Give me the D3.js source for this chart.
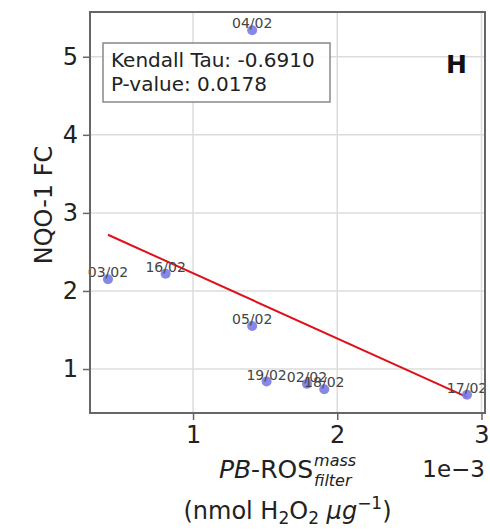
<!DOCTYPE html>
<html><head><meta charset="utf-8">
<script src="https://cdn.jsdelivr.net/npm/d3@7"></script>
<style>
body{margin:0;background:#fff}
text{font-family:"DejaVu Sans",sans-serif}
</style>
</head><body>
<svg id="chart" width="490" height="530"></svg>
<script>
// Sampling dates and their measurements
const dates = ["03/02","16/02","05/02","19/02","02/02","18/02","17/02","04/02"];
const rosValues = [0.00041,0.00081,0.00141,0.00151,0.00179,0.00191,0.00290,0.00141];
const nqoValues = [2.15,2.22,1.55,0.84,0.81,0.74,0.67,5.34];
// Trend line end points
const fitX = [0.00041, 0.00290];
const fitY = [2.72, 0.64];
const xTicks = [0.001, 0.002, 0.003];
const yTicks = [1, 2, 3, 4, 5];
const statLines = ["Kendall Tau: -0.6910", "P-value: 0.0178"];
const panelTag = "H";

const svg = d3.select("#chart");
const L = 90, R = 485, T = 12, B = 413;

function padded(vals){
  const [a,b] = d3.extent(vals); const p = (b-a)*0.05; return [a-p, b+p];
}
const x = d3.scaleLinear().domain(padded(rosValues)).range([L, R]);
const y = d3.scaleLinear().domain(padded(nqoValues)).range([B, T]);

// grid
const g = svg.append("g");
g.selectAll(".gx").data(xTicks).join("line")
  .attr("x1", d=>x(d)).attr("x2", d=>x(d)).attr("y1", T).attr("y2", B)
  .attr("stroke", "#dcdcdc").attr("stroke-width", 1.5);
g.selectAll(".gy").data(yTicks).join("line")
  .attr("y1", d=>y(d)).attr("y2", d=>y(d)).attr("x1", L).attr("x2", R)
  .attr("stroke", "#dcdcdc").attr("stroke-width", 1.5);

// axes
const xAxis = d3.axisBottom(x).tickValues(xTicks).tickFormat(d=>d3.format("d")(d*1000)).tickSizeOuter(0).tickSize(7).tickPadding(6);
const yAxis = d3.axisLeft(y).tickValues(yTicks).tickFormat(d3.format("d")).tickSizeOuter(0).tickSize(7).tickPadding(5);
const gx = svg.append("g").attr("transform", `translate(0,${B})`).call(xAxis);
const gy = svg.append("g").attr("transform", `translate(${L},0)`).call(yAxis);
[gx, gy].forEach(a => {
  a.select(".domain").remove();
  a.selectAll(".tick line").attr("stroke", "#666").attr("stroke-width", 1.5);
  a.selectAll(".tick text").attr("fill", "#222").style("font-size", "24px")
    .style("font-family", '"DejaVu Sans",sans-serif');
});

// trend line
svg.append("line")
  .attr("x1", x(fitX[0])).attr("y1", y(fitY[0]))
  .attr("x2", x(fitX[1])).attr("y2", y(fitY[1]))
  .attr("stroke", "#e0101a").attr("stroke-width", 2);

// points
const pts = dates.map((d,i)=>({d, xv: rosValues[i], yv: nqoValues[i]}));
svg.selectAll(".pt").data(pts).join("circle")
  .attr("cx", p=>x(p.xv)).attr("cy", p=>y(p.yv)).attr("r", 5)
  .attr("fill", "#7a7ae6").attr("fill-opacity", 0.9);
svg.selectAll(".lab").data(pts).join("text")
  .attr("x", p=>x(p.xv)).attr("y", p=>y(p.yv)-2)
  .attr("text-anchor", "middle").attr("fill", "#444")
  .style("font-size", "14px").text(p=>p.d);

// statistics box
svg.append("rect").attr("x", 103).attr("y", 43).attr("width", 227).attr("height", 59)
  .attr("fill", "#fff").attr("fill-opacity", 0.85).attr("stroke", "#888").attr("stroke-width", 1.5);
svg.selectAll(".stat").data(statLines).join("text")
  .attr("x", 111).attr("y", (d,i)=>67 + i*24)
  .attr("fill", "#222").style("font-size", "20px").text(d=>d);

// panel tag
svg.append("text").attr("x", 467).attr("y", 73).attr("text-anchor", "end")
  .attr("fill", "#111").style("font-size", "25px").style("font-weight", "bold").text(panelTag);

// frame
svg.append("rect").attr("x", L).attr("y", T).attr("width", R-L).attr("height", B-T)
  .attr("fill", "none").attr("stroke", "#666").attr("stroke-width", 2);

// offset text
svg.append("text").attr("x", R).attr("y", 477).attr("text-anchor", "end")
  .attr("fill", "#222").style("font-size", "23px").text("1e\u22123");

// y label
svg.append("text").attr("transform", "translate(52,205) rotate(-90)")
  .attr("text-anchor", "middle").attr("fill", "#222").style("font-size", "24px").text("NQO-1 FC");

// x label, line 1 with stacked super/subscript
const cx = (L+R)/2;
const main = svg.append("text").attr("y", 478).attr("fill", "#222").style("font-size", "25px");
main.append("tspan").style("font-style", "italic").text("PB");
main.append("tspan").text("-ROS");
const mainW = main.node().getComputedTextLength();
const sup = svg.append("text").attr("y", 466).attr("fill", "#222").style("font-size", "16px").style("font-style", "italic").text("mass");
const sub = svg.append("text").attr("y", 486).attr("fill", "#222").style("font-size", "16px").style("font-style", "italic").text("filter");
const scriptW = Math.max(sup.node().getComputedTextLength(), sub.node().getComputedTextLength());
const x0 = cx - (mainW + 1 + scriptW)/2;
main.attr("x", x0);
sup.attr("x", x0 + mainW + 1);
sub.attr("x", x0 + mainW + 1);

// x label, line 2
const l2 = svg.append("text").attr("x", cx).attr("y", 519).attr("text-anchor", "middle")
  .attr("fill", "#222").style("font-size", "24px");
l2.append("tspan").text("(nmol H");
l2.append("tspan").attr("dy", 5).style("font-size", "17px").text("2");
l2.append("tspan").attr("dy", -5).text("O");
l2.append("tspan").attr("dy", 5).style("font-size", "17px").text("2");
l2.append("tspan").attr("dy", -5).text(" ");
l2.append("tspan").style("font-style", "italic").text("\u03bcg");
l2.append("tspan").attr("dy", -10).style("font-size", "17px").text("\u22121");
l2.append("tspan").attr("dy", 10).text(")");
</script>
</body></html>
